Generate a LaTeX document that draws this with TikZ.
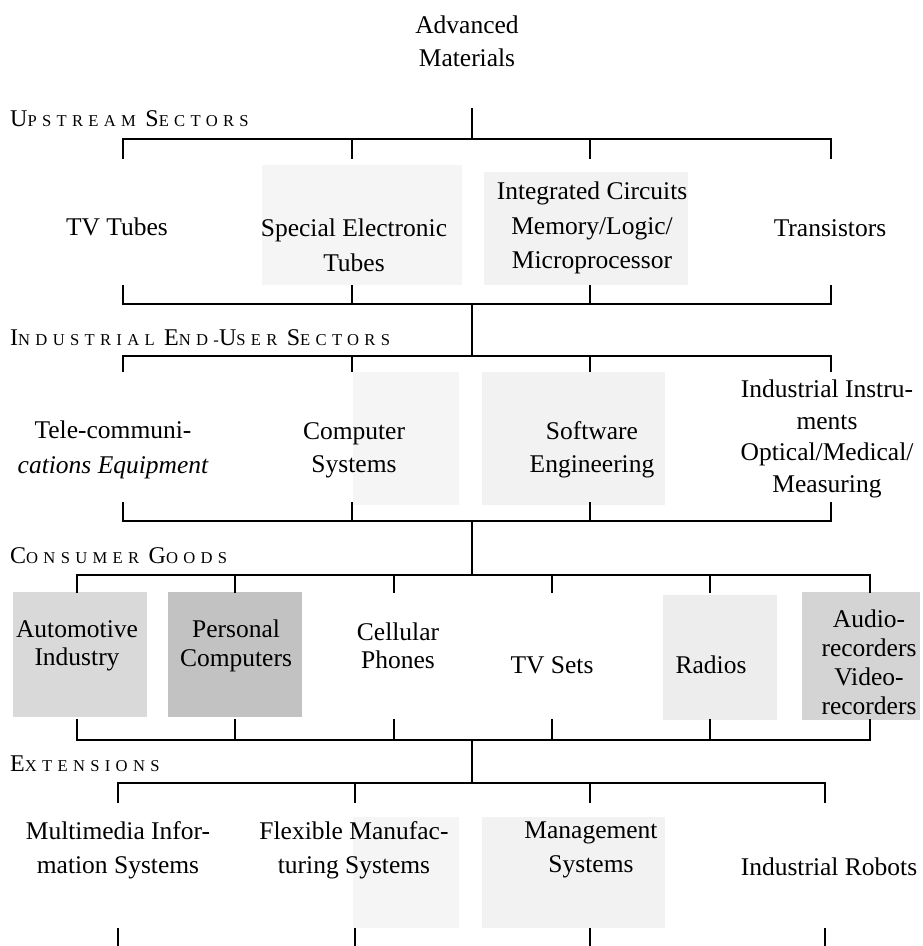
\documentclass[tikz,border=0pt]{standalone}
\usepackage{fontspec}
\setmainfont{Liberation Serif}
\newfontfamily\trackfont[LetterSpace=32]{Liberation Serif}
% spaced small capitals for the tier headings
\newcommand\capL[1]{{\fontsize{24}{24}\selectfont #1}}
\newcommand\capS[1]{{\fontsize{16.6}{16.6}\selectfont #1}}
\begin{document}
\begin{tikzpicture}[x=1pt,y=-1pt,
  box/.style={align=center, inner sep=0pt, font=\fontsize{25.5}{33}\selectfont},
  heading/.style={anchor=base west, inner sep=0pt, font=\trackfont\fontsize{16.6}{16.6}\selectfont},
  wire/.style={line width=1.2pt, line join=miter},
  halftone/.style={fill=black!#1, draw=none}]
\useasboundingbox (0,0) rectangle (922,946);

% halftone panels behind some of the entries
\fill[halftone=4]  (262,165) rectangle (462,285);
\fill[halftone=5]  (484,172) rectangle (688,285);
\fill[halftone=4]  (353,372) rectangle (459,505);
\fill[halftone=5]  (482,372) rectangle (665,505);
\fill[halftone=15] (13,592) rectangle (147,717);
\fill[halftone=24] (168,592) rectangle (302,717);
\fill[halftone=7]  (663,595) rectangle (777,720);
\fill[halftone=17] (802,592) rectangle (920,720);
\fill[halftone=4]  (353,817) rectangle (459,928);
\fill[halftone=5]  (482,817) rectangle (665,928);

% title
\node[box] (adv) at (467,41.5) {Advanced\\Materials};

% tier headings
\node[heading] (hup) at (10,126) {\capL{U}\capS{PSTREAM} \capL{S}\capS{ECTORS}};
\node[heading] (hind) at (10,345) {\capL{I}\capS{NDUSTRIAL} \capL{E}\capS{ND-}\capL{U}\capS{SER} \capL{S}\capS{ECTORS}};
\node[heading] (hcon) at (10,563) {\capL{C}\capS{ONSUMER} \capL{G}\capS{OODS}};
\node[heading] (hext) at (10,771) {\capL{E}\capS{XTENSIONS}};

% upstream sectors
\node[box] (tvt) at (117,227) {TV Tubes};
\node[box, font=\fontsize{25.5}{35}\selectfont] (set) at (354,245) {Special Electronic\\Tubes};
\node[box, font=\fontsize{25.5}{34.5}\selectfont] (ic) at (592,228) {Integrated Circuits\\Memory/Logic/\\Microprocessor};
\node[box] (tra) at (830,228) {Transistors};

% industrial end-user sectors
\node[box, font=\fontsize{25.5}{35}\selectfont] (tel) at (113,450) {Tele-communi-\\\itshape cations Equipment};
\node[box] (cs) at (354,450) {Computer\\Systems};
\node[box] (se) at (592,450) {Software\\Engineering};
\node[box, font=\fontsize{25.5}{31.7}\selectfont] (ii) at (827,439) {Industrial Instru-\\ments\\Optical/Medical/\\Measuring};

% consumer goods
\node[box, font=\fontsize{25.5}{28.5}\selectfont] (aut) at (77,646) {Automotive\\Industry};
\node[box, font=\fontsize{25.5}{28.5}\selectfont] (pc) at (236,646) {Personal\\Computers};
\node[box, font=\fontsize{25.5}{28.5}\selectfont] (cel) at (398,646) {Cellular\\Phones};
\node[box] (tvs) at (552,665) {TV Sets};
\node[box] (rad) at (711,665) {Radios};
\node[box, font=\fontsize{25.5}{29}\selectfont] (avr) at (869,662.5) {Audio-\\recorders\\Video-\\recorders};

% extensions
\node[box, font=\fontsize{25.5}{34}\selectfont] (mm) at (118,850) {Multimedia Infor-\\mation Systems};
\node[box, font=\fontsize{25.5}{34}\selectfont] (fms) at (354,850) {Flexible Manufac-\\turing Systems};
\node[box, font=\fontsize{25.5}{34}\selectfont] (ms) at (591,850) {Management\\Systems};
\node[box] (ir) at (829,867) {Industrial Robots};

% spine joining the tiers
\coordinate (src) at (472,108);
\coordinate (upTop) at (472,139);
\coordinate (upBot) at (472,304);
\coordinate (indTop) at (472,356);
\coordinate (indBot) at (472,521);
\coordinate (conTop) at (472,575);
\coordinate (conBot) at (472,740);
\coordinate (extTop) at (472,783);
\draw[wire] (src) -- (upTop);
\draw[wire] (upBot) -- (indTop);
\draw[wire] (indBot) -- (conTop);
\draw[wire] (conBot) -- (extTop);

% brackets of each tier: a = upper bus, b = end of upper tick,
% c = start of lower tick, d = lower bus
\foreach \x [count=\i] in {123,352,590,831}{
  \coordinate (up\i a) at (\x,139); \coordinate (up\i b) at (\x,159);
  \coordinate (up\i c) at (\x,285); \coordinate (up\i d) at (\x,304);
  \coordinate (in\i a) at (\x,356); \coordinate (in\i b) at (\x,372);
  \coordinate (in\i c) at (\x,502); \coordinate (in\i d) at (\x,521);
}
\foreach \x [count=\i] in {77,235,394,552,710,870}{
  \coordinate (co\i a) at (\x,575); \coordinate (co\i b) at (\x,593);
  \coordinate (co\i c) at (\x,719); \coordinate (co\i d) at (\x,740);
}
\foreach \x [count=\i] in {118,355,590,825}{
  \coordinate (ex\i a) at (\x,783); \coordinate (ex\i b) at (\x,803);
  \coordinate (ex\i c) at (\x,928); \coordinate (ex\i d) at (\x,946);
}

\foreach \t in {up,in}{
  \draw[wire] (\t1b) -- (\t1a) -- (\t4a) -- (\t4b);
  \draw[wire] (\t1c) -- (\t1d) -- (\t4d) -- (\t4c);
  \draw[wire] (\t2a) -- (\t2b) (\t3a) -- (\t3b);
  \draw[wire] (\t2c) -- (\t2d) (\t3c) -- (\t3d);
}
\draw[wire] (co1b) -- (co1a) -- (co6a) -- (co6b);
\draw[wire] (co1c) -- (co1d) -- (co6d) -- (co6c);
\foreach \i in {2,...,5}{
  \draw[wire] (co\i a) -- (co\i b) (co\i c) -- (co\i d);
}
\draw[wire] (ex1b) -- (ex1a) -- (ex4a) -- (ex4b);
\draw[wire] (ex2a) -- (ex2b) (ex3a) -- (ex3b);
\foreach \i in {1,...,4}{
  \draw[wire] (ex\i c) -- (ex\i d);
}
\end{tikzpicture}
\end{document}
